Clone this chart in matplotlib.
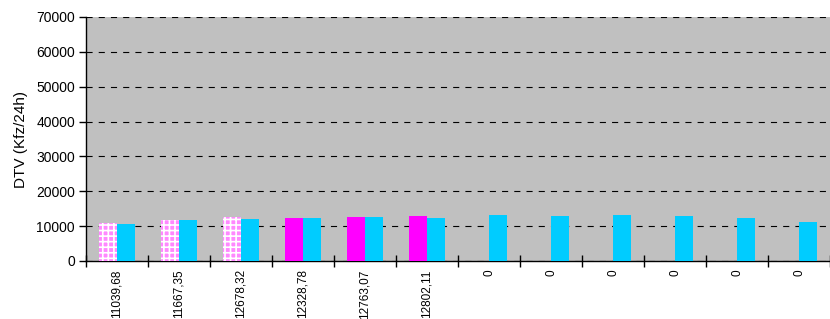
import matplotlib
matplotlib.use("Agg")
import matplotlib.pyplot as plt
import numpy as np

plt.rcParams['font.family'] = ['Liberation Sans', 'DejaVu Sans']
plt.rcParams['hatch.linewidth'] = 1.2

labels = ["11039,68", "11667,35", "12678,32", "12328,78", "12763,07", "12802,11",
          "0", "0", "0", "0", "0", "0"]
series_a = [11039.68, 11667.35, 12678.32, 12328.78, 12763.07, 12802.11, 0, 0, 0, 0, 0, 0]
hatched = [True, True, True, False, False, False, False, False, False, False, False, False]
series_b = [10700, 11850, 12050, 12330, 12620, 12330, 13200, 12900, 13200, 12900, 12330, 11200]
yticks = [0, 10000, 20000, 30000, 40000, 50000, 60000, 70000]

fig = plt.figure(figsize=(8.3, 3.19), dpi=100)
ax = fig.add_axes([86/830, 58/319, 744/830, 244/319])
ax.set_facecolor('#C0C0C0')

n = len(labels)
x = np.arange(n)
w = 0.29
for i in range(n):
    if series_a[i] > 0:
        if hatched[i]:
            ax.bar(x[i] - w/2, series_a[i], w, facecolor='#FF88FF', edgecolor='white',
                   hatch='+++', linewidth=0, zorder=3)
        else:
            ax.bar(x[i] - w/2, series_a[i], w, color='#FF00FF', linewidth=0, zorder=3)
ax.bar(x + w/2, series_b, w, color='#00CCFF', linewidth=0, zorder=3)

ax.set_xlim(-0.5, n - 0.5)
ax.set_ylim(0, 70000)
ax.set_yticks(yticks)
ax.set_yticklabels([str(v) for v in yticks], fontsize=10)
ax.set_xticks(x)
ax.set_xticklabels(labels, rotation=90, fontsize=8.5, va='top')
ax.set_xticks(np.arange(-0.5, n, 1.0), minor=True)
ax.tick_params(axis='x', which='major', length=0, pad=6)
ax.tick_params(axis='x', which='minor', length=8, direction='inout', width=1)
ax.tick_params(axis='y', length=5, direction='out', width=1, pad=3)
ax.yaxis.grid(True, color='black', linestyle=(0, (5.5, 5.5)), linewidth=0.8, zorder=1)
ax.set_axisbelow(True)
for s in ['top', 'right']:
    ax.spines[s].set_visible(False)
for s in ['left', 'bottom']:
    ax.spines[s].set_linewidth(1)
ax.set_ylabel('DTV (Kfz/24h)', fontsize=11, labelpad=6)

fig.savefig('out.png', dpi=100)
